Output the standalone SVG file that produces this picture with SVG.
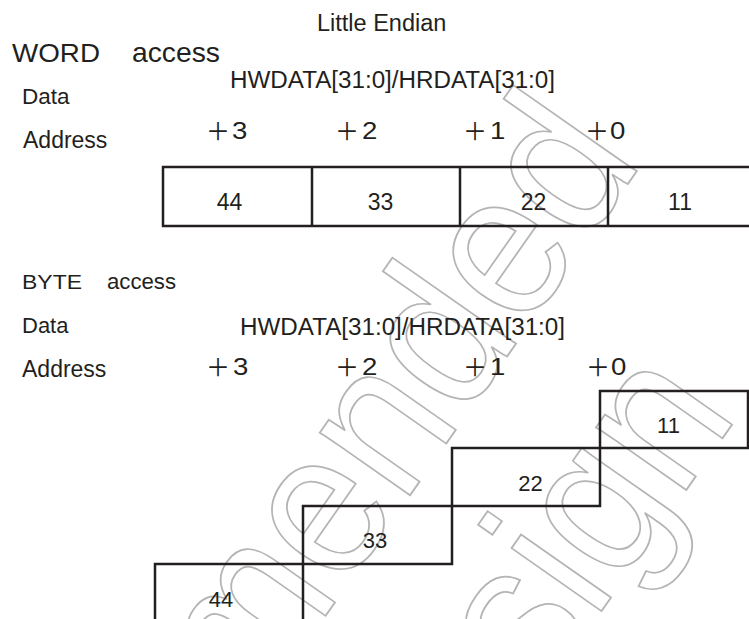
<svg xmlns="http://www.w3.org/2000/svg" width="749" height="619" viewBox="0 0 749 619">
<style>
.t{font-family:"Liberation Sans",Arial,"Noto Sans CJK JP",sans-serif;fill:#231f20}
.p{font-family:"Noto Sans CJK JP","Noto Sans CJK SC",sans-serif;font-size:24px;fill:#231f20}
.d{font-family:"Liberation Sans",Arial,sans-serif;font-size:23px;fill:#231f20}
.ln{fill:none;stroke:#231f20;stroke-width:2.5}
.wm{font-family:"Liberation Sans",Arial,sans-serif;font-size:208px;fill:none;stroke:#b4b4b4;stroke-width:1.8}
.c{text-anchor:middle}
</style>
<rect width="749" height="619" fill="#ffffff"/>
<g id="watermark">
<text class="wm" x="0" y="0" text-anchor="end" transform="translate(644 161) rotate(-55) scale(0.91 1)">mended</text>
<text class="wm" x="0" y="0" transform="translate(540 699) rotate(-55) scale(0.91 1)">sign</text>
</g>
<g id="title">
<text class="t" x="317" y="31" font-size="23.5">Little Endian</text>
</g>
<g id="word-labels">
<text class="t" x="12" y="62" font-size="26" textLength="88" lengthAdjust="spacingAndGlyphs">WORD</text>
<text class="t" x="132" y="62" font-size="28" textLength="88" lengthAdjust="spacingAndGlyphs">access</text>
<text class="t" x="230" y="88" font-size="23.5" textLength="325" lengthAdjust="spacingAndGlyphs">HWDATA[31:0]/HRDATA[31:0]</text>
<text class="t" x="22" y="104" font-size="22.5">Data</text>
<text class="t" x="23" y="148" font-size="23">Address</text>
<text class="p" x="206" y="139.5">＋</text><text class="d" transform="translate(232 139) scale(1.2 1)">3</text>
<text class="p" x="335" y="139.5">＋</text><text class="d" transform="translate(362 139) scale(1.2 1)">2</text>
<text class="p" x="463" y="139.5">＋</text><text class="d" transform="translate(490 139) scale(1.2 1)">1</text>
<text class="p" x="585" y="139.5">＋</text><text class="d" transform="translate(610 139) scale(1.2 1)">0</text>
</g>
<g id="word-row">
<path class="ln" d="M752 167 H163 V226 H752 M312 167 V226 M460 167 V226 M608 167 V226"/>
<text class="t c" x="229.5" y="210" font-size="23">44</text>
<text class="t c" x="380.5" y="210" font-size="23">33</text>
<text class="t c" x="533.5" y="210" font-size="23">22</text>
<text class="t c" x="680" y="210" font-size="23">11</text>
</g>
<g id="byte-labels">
<text class="t" x="22" y="289" font-size="21" textLength="60" lengthAdjust="spacingAndGlyphs">BYTE</text>
<text class="t" x="107" y="289" font-size="22" textLength="69" lengthAdjust="spacingAndGlyphs">access</text>
<text class="t" x="22" y="333" font-size="22">Data</text>
<text class="t" x="240" y="335" font-size="23.5" textLength="325" lengthAdjust="spacingAndGlyphs">HWDATA[31:0]/HRDATA[31:0]</text>
<text class="t" x="22" y="377" font-size="23">Address</text>
<text class="p" x="206" y="375.5">＋</text><text class="d" transform="translate(233 375) scale(1.2 1)">3</text>
<text class="p" x="335" y="375.5">＋</text><text class="d" transform="translate(362 375) scale(1.2 1)">2</text>
<text class="p" x="463" y="375.5">＋</text><text class="d" transform="translate(490 375) scale(1.2 1)">1</text>
<text class="p" x="586" y="375.5">＋</text><text class="d" transform="translate(611 375) scale(1.2 1)">0</text>
</g>
<g id="byte-0">
<path class="ln" d="M600 391 H748 V448 H600 Z"/>
<text class="t c" x="668.5" y="433" font-size="22">11</text>
</g>
<g id="byte-1">
<path class="ln" d="M600 448 V506 H452 V448 Z"/>
<text class="t c" x="530.5" y="491" font-size="22">22</text>
</g>
<g id="byte-2">
<path class="ln" d="M452 506 V564 H303 V506 Z"/>
<text class="t c" x="375" y="548" font-size="22">33</text>
</g>
<g id="byte-3">
<path class="ln" d="M303 564 V622 M155 622 V564 H303"/>
<text class="t c" x="221" y="607" font-size="22">44</text>
</g>
</svg>
